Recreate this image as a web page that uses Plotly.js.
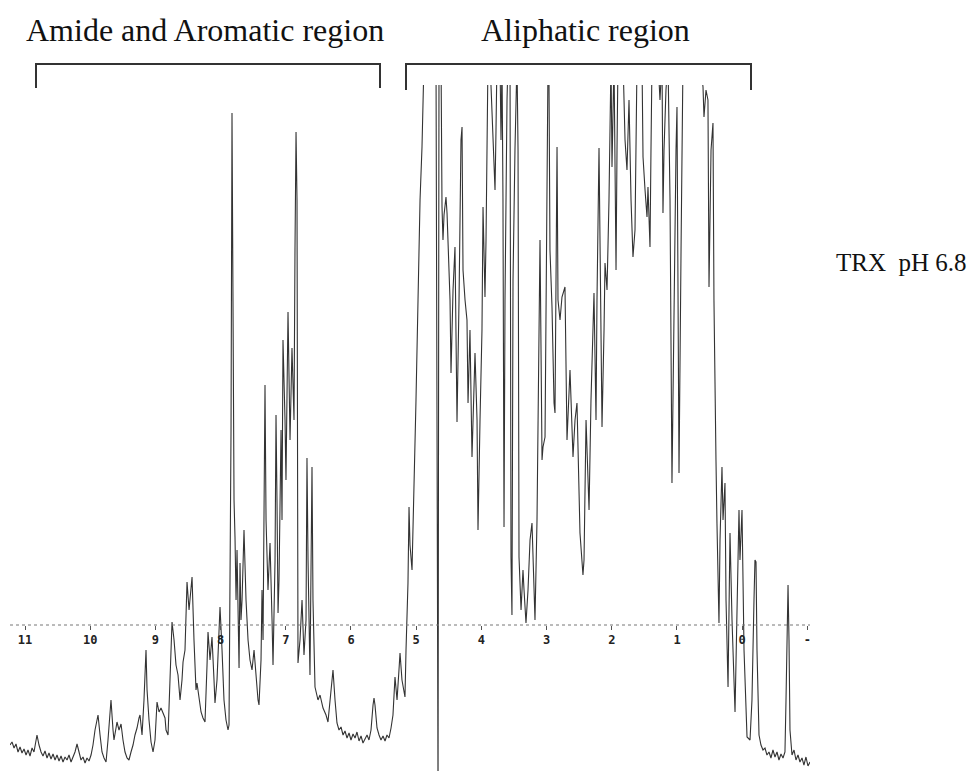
<!DOCTYPE html>
<html>
<head>
<meta charset="utf-8">
<script src="https://cdn.plot.ly/plotly-3.0.1.min.js"></script>
<style>html,body{margin:0;padding:0;background:#fff;}#chart{width:973px;height:771px;}</style>
</head>
<body>
<div id="chart"></div>
<script>
const ppm = [
11.230,11.199,11.168,11.138,11.107,11.076,11.046,11.015,10.984,10.954,10.923,10.892,10.862,10.831,10.816,10.785,10.754,10.724,10.693,10.662,
10.632,10.601,10.570,10.539,10.509,10.478,10.447,10.417,10.386,10.355,10.325,10.294,10.263,10.233,10.202,10.171,10.141,10.110,10.079,10.049,
10.018,9.987,9.957,9.926,9.880,9.849,9.819,9.788,9.757,9.727,9.681,9.650,9.635,9.604,9.589,9.558,9.527,9.497,9.466,9.435,
9.405,9.374,9.343,9.313,9.282,9.251,9.236,9.205,9.175,9.144,9.128,9.098,9.067,9.036,9.006,8.975,8.944,8.914,8.883,8.852,
8.837,8.806,8.776,8.745,8.714,8.684,8.653,8.622,8.592,8.576,8.546,8.515,8.484,8.454,8.438,8.408,8.377,8.362,8.331,8.300,
8.270,8.239,8.208,8.193,8.162,8.132,8.101,8.086,8.055,8.024,8.009,7.978,7.948,7.917,7.886,7.871,7.855,7.840,7.825,7.809,
7.794,7.779,7.763,7.748,7.733,7.717,7.702,7.687,7.671,7.641,7.610,7.579,7.549,7.518,7.487,7.457,7.426,7.411,7.380,7.365,
7.349,7.319,7.303,7.273,7.242,7.211,7.196,7.165,7.150,7.135,7.119,7.104,7.073,7.058,7.043,7.012,6.997,6.966,6.951,6.935,
6.905,6.874,6.859,6.843,6.828,6.813,6.782,6.751,6.721,6.690,6.675,6.659,6.629,6.598,6.583,6.552,6.506,6.475,6.429,6.383,
6.353,6.322,6.276,6.245,6.215,6.184,6.153,6.122,6.092,6.061,6.030,6.000,5.969,5.938,5.908,5.877,5.846,5.816,5.785,5.754,
5.724,5.693,5.662,5.647,5.632,5.601,5.570,5.540,5.509,5.478,5.448,5.417,5.386,5.356,5.325,5.294,5.264,5.248,5.218,5.187,
5.172,5.156,5.126,5.110,5.095,5.064,5.034,5.003,4.972,4.941,4.911,4.895,4.880,4.696,4.665,4.650,4.619,
4.604,4.589,4.573,4.543,4.527,4.512,4.481,4.466,4.435,4.405,4.389,4.374,4.343,4.313,4.297,4.282,4.251,4.221,4.205,4.175,
4.144,4.113,4.098,4.067,4.052,4.021,3.991,3.975,3.945,3.929,3.914,3.899,3.868,3.837,3.807,3.791,3.776,3.761,3.715,3.699,
3.684,3.669,3.653,3.638,3.607,3.592,3.561,3.546,3.531,3.515,3.485,3.469,3.454,3.438,3.423,3.392,3.362,3.346,3.316,3.285,
3.254,3.224,3.208,3.178,3.147,3.116,3.101,3.070,3.055,3.024,2.994,2.978,2.963,2.948,2.917,2.886,2.871,2.840,2.825,2.794,
2.764,2.718,2.687,2.641,2.595,2.564,2.534,2.488,2.442,2.426,2.395,2.365,2.349,2.319,2.273,2.242,2.227,2.196,2.181,2.150,
2.119,2.104,2.073,2.043,2.012,1.997,1.966,1.935,1.920,1.905,1.828,1.797,1.767,1.736,1.705,1.675,1.644,1.629,1.613,1.537,
1.521,1.490,1.460,1.445,1.414,1.399,1.383,1.291,1.261,1.230,1.215,1.199,1.169,1.138,1.107,1.077,1.046,1.015,1.000,0.984,
0.969,0.938,0.908,0.647,0.601,0.586,0.555,0.525,0.509,0.478,0.448,0.433,0.417,0.402,0.387,0.371,0.356,0.340,0.310,0.294,
0.264,0.248,0.217,0.187,0.156,0.110,0.080,0.049,0.034,0.003,-0.028,-0.074,-0.120,-0.150,-0.181,-0.196,-0.212,-0.227,-0.258,-0.288,
-0.319,-0.350,-0.380,-0.411,-0.441,-0.472,-0.503,-0.534,-0.564,-0.595,-0.626,-0.656,-0.672,-0.703,-0.718,-0.733,-0.764,-0.795,-0.825,-0.856,
-0.886,-0.917,-0.947,-0.978,-1.009,-1.040
];
// Signal intensity (arbitrary units) at each point
const intensity = [
5,8,2,6,-2,3,-3,1,-5,0,-6,2,-2,10,15,5,-2,-6,-1,-8,
-3,-9,-4,-10,-5,-11,-6,-12,-7,-10,-5,-12,-7,-2,6,-2,-10,-7,-13,-8,
-11,-5,5,20,35,15,-2,-8,-12,10,50,20,10,22,28,20,26,10,-2,-8,
-10,-2,5,15,22,32,35,15,50,100,60,30,8,-2,10,48,38,42,36,32,
20,15,70,128,110,85,75,50,70,88,100,168,140,158,173,110,60,67,50,38,
32,28,85,118,90,113,70,47,70,120,143,100,50,30,20,25,190,320,637,350,
250,213,150,200,130,82,187,130,150,220,150,110,90,80,100,70,50,45,90,160,
110,365,230,160,207,130,85,190,335,250,137,170,320,230,410,330,270,438,350,310,
402,330,500,618,550,87,110,150,95,130,292,190,75,283,150,63,50,55,42,35,
28,50,80,50,27,20,23,15,19,12,17,10,16,12,18,9,14,7,12,15,
10,20,45,52,45,22,15,10,14,9,15,12,22,35,73,50,80,97,70,55,
53,100,167,243,205,180,257,350,450,550,603,665,690,690,-50,690,690,
543,510,535,553,537,512,450,377,460,503,420,328,450,610,623,480,450,430,347,420,
293,370,397,330,220,330,420,543,453,510,630,690,690,637,580,560,620,690,690,610,
690,550,223,450,650,690,690,193,135,470,600,690,690,600,193,140,180,160,127,160,
210,227,190,130,230,420,510,290,303,313,550,690,665,500,443,347,337,603,450,430,
453,463,310,380,293,330,347,217,175,190,330,280,240,350,457,330,450,602,500,323,
420,487,460,550,690,583,690,480,600,690,690,610,580,650,550,493,520,630,690,690,
593,560,533,563,503,600,690,690,650,690,537,600,660,690,550,267,450,600,643,500,
277,500,690,690,663,633,660,650,463,600,627,450,330,290,227,150,127,210,283,230,
267,150,63,217,130,38,150,240,190,240,100,13,10,50,150,190,188,100,15,5,
0,2,-5,-2,-8,0,-7,-2,-10,-4,-8,-2,50,165,110,20,-5,0,-10,-5,
-12,-8,-15,-7,-16,-12
];
// Axis tick labels
const tickPositions = [11,10,9,8,7,6,5,4,3,2,1,0,-1];
const tickLabels = ['11','10','9','8','7','6','5','4','3','2','1','0','-'];
// Region labels and sample label
const regionLabels = ['Amide and Aromatic region','Aliphatic region'];
const sampleLabel = 'TRX  pH 6.8';

const trace = {
  x: ppm, y: intensity, type: 'scatter', mode: 'lines',
  line: {color: '#333333', width: 1.1}, hoverinfo: 'skip'
};

const axisPos = (771 - 625) / 686;
const py = v => (771 - v) / 686;
const px = v => (v - 10) / 800;

const layout = {
  width: 973, height: 771,
  margin: {l: 10, r: 163, t: 85, b: 0, pad: 0},
  paper_bgcolor: '#ffffff', plot_bgcolor: '#ffffff',
  showlegend: false,
  xaxis: {
    range: [11.230, -1.040], anchor: 'free', position: axisPos,
    showgrid: false, zeroline: false, showline: false,
    tickmode: 'array', tickvals: tickPositions, ticktext: tickLabels,
    ticks: 'outside', ticklen: 4, tickwidth: 1, tickcolor: '#555',
    tickfont: {family: 'DejaVu Sans Mono', size: 12, color: '#222', weight: 'bold'},
    fixedrange: true
  },
  yaxis: {range: [-21, 665], visible: false, fixedrange: true},
  shapes: [
    {type: 'line', xref: 'paper', yref: 'paper', x0: 0, x1: 1, y0: axisPos, y1: axisPos,
     line: {color: '#777', width: 1, dash: '3px,3px'}, layer: 'above'},
    {type: 'path', xref: 'paper', yref: 'paper',
     path: 'M ' + px(36) + ',' + py(88) + ' L ' + px(36) + ',' + py(64) + ' L ' + px(380) + ',' + py(64) + ' L ' + px(380) + ',' + py(88),
     line: {color: '#333', width: 2}},
    {type: 'path', xref: 'paper', yref: 'paper',
     path: 'M ' + px(406) + ',' + py(90) + ' L ' + px(406) + ',' + py(64) + ' L ' + px(751) + ',' + py(64) + ' L ' + px(751) + ',' + py(90),
     line: {color: '#333', width: 2}}
  ],
  annotations: [
    {text: regionLabels[0], xref: 'paper', yref: 'paper', x: px(205), y: py(30), xanchor: 'center', yanchor: 'middle',
     showarrow: false, font: {family: 'Liberation Serif', size: 32, color: '#111'}},
    {text: regionLabels[1], xref: 'paper', yref: 'paper', x: px(585), y: py(30), xanchor: 'center', yanchor: 'middle',
     showarrow: false, font: {family: 'Liberation Serif', size: 32, color: '#111'}},
    {text: sampleLabel, xref: 'paper', yref: 'paper', x: px(901), y: py(262), xanchor: 'center', yanchor: 'middle',
     showarrow: false, font: {family: 'Liberation Serif', size: 25, color: '#111'}}
  ]
};

Plotly.newPlot('chart', [trace], layout, {displayModeBar: false, staticPlot: true});
</script>
</body>
</html>
